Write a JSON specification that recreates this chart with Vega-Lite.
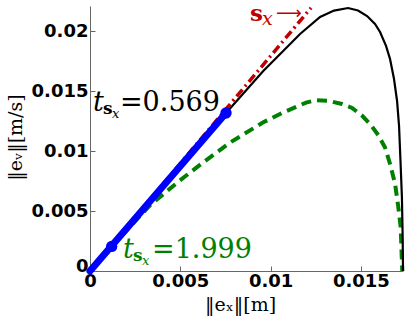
{
  "$schema": "https://vega.github.io/schema/vega-lite/v6.json",
  "width": 313,
  "height": 265,
  "autosize": "none",
  "padding": {"left": 90, "top": 6, "right": 4, "bottom": 52},
  "background": "white",
  "config": {
    "view": {"stroke": null},
    "axis": {
      "grid": false,
      "domainColor": "#666666",
      "domainWidth": 1,
      "tickColor": "#666666",
      "tickSize": -5,
      "labelFont": "DejaVu Sans",
      "labelFontWeight": "bold",
      "labelFontSize": 18,
      "labelColor": "#000000",
      "labelFlush": false,
      "titleFont": "DejaVu Serif",
      "titleFontSize": 19,
      "titleFontWeight": "normal",
      "titleColor": "#000000"
    },
    "text": {"font": "DejaVu Serif"}
  },
  "datasets": {
    "curves": [
      {"s": "black", "ord": 0, "x": 0, "y": 0},
      {"s": "black", "ord": 1, "x": 0.0025, "y": 0.00438},
      {"s": "black", "ord": 2, "x": 0.005, "y": 0.00876},
      {"s": "black", "ord": 3, "x": 0.00753, "y": 0.01318},
      {"s": "black", "ord": 4, "x": 0.00958, "y": 0.01665},
      {"s": "black", "ord": 5, "x": 0.01163, "y": 0.01977},
      {"s": "black", "ord": 6, "x": 0.01274, "y": 0.02118},
      {"s": "black", "ord": 7, "x": 0.01351, "y": 0.02172},
      {"s": "black", "ord": 8, "x": 0.01429, "y": 0.02193},
      {"s": "black", "ord": 9, "x": 0.01484, "y": 0.02172},
      {"s": "black", "ord": 10, "x": 0.01534, "y": 0.02126},
      {"s": "black", "ord": 11, "x": 0.01578, "y": 0.0206},
      {"s": "black", "ord": 12, "x": 0.01606, "y": 0.01993},
      {"s": "black", "ord": 13, "x": 0.01639, "y": 0.01877},
      {"s": "black", "ord": 14, "x": 0.01661, "y": 0.01769},
      {"s": "black", "ord": 15, "x": 0.01683, "y": 0.01603},
      {"s": "black", "ord": 16, "x": 0.017, "y": 0.0142},
      {"s": "black", "ord": 17, "x": 0.01711, "y": 0.01213},
      {"s": "black", "ord": 18, "x": 0.01719, "y": 0.00922},
      {"s": "black", "ord": 19, "x": 0.01727, "y": 0.00615},
      {"s": "black", "ord": 20, "x": 0.01731, "y": 0.00299},
      {"s": "black", "ord": 21, "x": 0.01733, "y": 0},
      {"s": "green", "ord": 0, "x": 0, "y": 0},
      {"s": "green", "ord": 1, "x": 0.0012, "y": 0.00205},
      {"s": "green", "ord": 2, "x": 0.00332, "y": 0.00548},
      {"s": "green", "ord": 3, "x": 0.00498, "y": 0.00756},
      {"s": "green", "ord": 4, "x": 0.00626, "y": 0.00905},
      {"s": "green", "ord": 5, "x": 0.00775, "y": 0.01071},
      {"s": "green", "ord": 6, "x": 0.00957, "y": 0.01238},
      {"s": "green", "ord": 7, "x": 0.01068, "y": 0.01321},
      {"s": "green", "ord": 8, "x": 0.01196, "y": 0.01404},
      {"s": "green", "ord": 9, "x": 0.01251, "y": 0.01424},
      {"s": "green", "ord": 10, "x": 0.01318, "y": 0.0142},
      {"s": "green", "ord": 11, "x": 0.01395, "y": 0.01393},
      {"s": "green", "ord": 12, "x": 0.01451, "y": 0.0136},
      {"s": "green", "ord": 13, "x": 0.01506, "y": 0.01296},
      {"s": "green", "ord": 14, "x": 0.0155, "y": 0.01227},
      {"s": "green", "ord": 15, "x": 0.01596, "y": 0.01134},
      {"s": "green", "ord": 16, "x": 0.01633, "y": 0.01032},
      {"s": "green", "ord": 17, "x": 0.01661, "y": 0.00895},
      {"s": "green", "ord": 18, "x": 0.01689, "y": 0.00728},
      {"s": "green", "ord": 19, "x": 0.01707, "y": 0.00534},
      {"s": "green", "ord": 20, "x": 0.0172, "y": 0.00368},
      {"s": "green", "ord": 21, "x": 0.01726, "y": 0.00119},
      {"s": "green", "ord": 22, "x": 0.01729, "y": 0},
      {"s": "red", "ord": 0, "x": 0, "y": 0},
      {"s": "red", "ord": 1, "x": 0.01224, "y": 0.02195},
      {"s": "blue", "ord": 0, "x": 0, "y": 0},
      {"s": "blue", "ord": 1, "x": 0.00753, "y": 0.01318}
    ],
    "dots": [
      {"x": 0.0012, "y": 0.00205},
      {"x": 0.00753, "y": 0.01318}
    ]
  },
  "encoding": {
    "x": {
      "field": "x",
      "type": "quantitative",
      "scale": {"domain": [0, 0.01733], "nice": false, "zero": false},
      "axis": {
        "values": [0, 0.005, 0.01, 0.015],
        "format": "~g",
        "labelPadding": 6,
        "title": "‖eₓ‖[m]",
        "titleX": 150,
        "titleY": 39,
        "titleAlign": "center",
        "titleBaseline": "alphabetic"
      }
    },
    "y": {
      "field": "y",
      "type": "quantitative",
      "scale": {"domain": [0, 0.0221], "nice": false, "zero": false},
      "axis": {
        "values": [0, 0.005, 0.01, 0.015, 0.02],
        "format": "~g",
        "labelPadding": 7,
        "labelBaseline": {"condition": {"test": "datum.value === 0", "value": "alphabetic"}, "value": "middle"},
        "title": "‖eᵥ‖[m/s]",
        "titleX": -75,
        "titleY": 131,
        "titleAngle": -90,
        "titleAlign": "center",
        "titleBaseline": "middle"
      }
    }
  },
  "layer": [
    {
      "data": {"name": "curves"},
      "transform": [{"filter": "datum.s === 'green'"}],
      "mark": {"type": "line", "color": "#008000", "strokeWidth": 4, "strokeDash": [10, 6]},
      "encoding": {"order": {"field": "ord", "type": "quantitative"}}
    },
    {
      "data": {"name": "curves"},
      "transform": [{"filter": "datum.s === 'black'"}],
      "mark": {"type": "line", "color": "#000000", "strokeWidth": 2.2},
      "encoding": {"order": {"field": "ord", "type": "quantitative"}}
    },
    {
      "data": {"name": "curves"},
      "transform": [{"filter": "datum.s === 'red'"}],
      "mark": {"type": "line", "color": "#c00000", "strokeWidth": 3.5, "strokeDash": [9, 4, 2, 4]},
      "encoding": {"order": {"field": "ord", "type": "quantitative"}}
    },
    {
      "data": {"name": "curves"},
      "transform": [{"filter": "datum.s === 'blue'"}],
      "mark": {"type": "line", "color": "#0000ff", "strokeWidth": 7, "strokeCap": "round"},
      "encoding": {"order": {"field": "ord", "type": "quantitative"}}
    },
    {
      "data": {"name": "dots"},
      "mark": {"type": "point", "filled": true, "color": "#0000ff", "opacity": 1, "size": 130}
    },
    {
      "data": {"values": [{"x": 0.000166, "y": 0.01337, "t": "t"}]},
      "mark": {"type": "text", "align": "left", "baseline": "alphabetic", "fontStyle": "italic", "fontSize": 27, "color": "#000000"},
      "encoding": {"text": {"field": "t"}}
    },
    {
      "data": {"values": [{"x": 0.000166, "y": 0.01337, "t": "s"}]},
      "mark": {"type": "text", "align": "left", "baseline": "alphabetic", "dx": 10, "dy": 3, "fontWeight": "bold", "fontSize": 17, "color": "#000000"},
      "encoding": {"text": {"field": "t"}}
    },
    {
      "data": {"values": [{"x": 0.000166, "y": 0.01337, "t": "x"}]},
      "mark": {"type": "text", "align": "left", "baseline": "alphabetic", "dx": 19, "dy": 7, "fontStyle": "italic", "fontSize": 13, "color": "#000000"},
      "encoding": {"text": {"field": "t"}}
    },
    {
      "data": {"values": [{"x": 0.000166, "y": 0.01337, "t": "=0.569"}]},
      "mark": {"type": "text", "align": "left", "baseline": "alphabetic", "dx": 27, "fontSize": 27, "color": "#000000"},
      "encoding": {"text": {"field": "t"}}
    },
    {
      "data": {"values": [{"x": 0.00183, "y": 0.00108, "t": "t"}]},
      "mark": {"type": "text", "align": "left", "baseline": "alphabetic", "fontStyle": "italic", "fontSize": 27, "color": "#008000"},
      "encoding": {"text": {"field": "t"}}
    },
    {
      "data": {"values": [{"x": 0.00183, "y": 0.00108, "t": "s"}]},
      "mark": {"type": "text", "align": "left", "baseline": "alphabetic", "dx": 10, "dy": 3, "fontWeight": "bold", "fontSize": 17, "color": "#008000"},
      "encoding": {"text": {"field": "t"}}
    },
    {
      "data": {"values": [{"x": 0.00183, "y": 0.00108, "t": "x"}]},
      "mark": {"type": "text", "align": "left", "baseline": "alphabetic", "dx": 19, "dy": 7, "fontStyle": "italic", "fontSize": 13, "color": "#008000"},
      "encoding": {"text": {"field": "t"}}
    },
    {
      "data": {"values": [{"x": 0.00183, "y": 0.00108, "t": "=1.999"}]},
      "mark": {"type": "text", "align": "left", "baseline": "alphabetic", "dx": 29, "fontSize": 27, "color": "#008000"},
      "encoding": {"text": {"field": "t"}}
    },
    {
      "data": {"values": [{"x": 0.00886, "y": 0.02085, "t": "s"}]},
      "mark": {"type": "text", "align": "left", "baseline": "alphabetic", "fontWeight": "bold", "fontSize": 23, "color": "#c00000"},
      "encoding": {"text": {"field": "t"}}
    },
    {
      "data": {"values": [{"x": 0.00886, "y": 0.02085, "t": "x"}]},
      "mark": {"type": "text", "align": "left", "baseline": "alphabetic", "dx": 12, "dy": 4, "fontStyle": "italic", "fontSize": 19, "color": "#c00000"},
      "encoding": {"text": {"field": "t"}}
    },
    {
      "data": {"values": [{"x": 0.00886, "y": 0.02085, "t": "⟶"}]},
      "mark": {"type": "text", "align": "left", "baseline": "middle", "dx": 26, "dy": -7, "font": "DejaVu Sans", "fontSize": 18, "color": "#c00000"},
      "encoding": {"text": {"field": "t"}}
    }
  ]
}
